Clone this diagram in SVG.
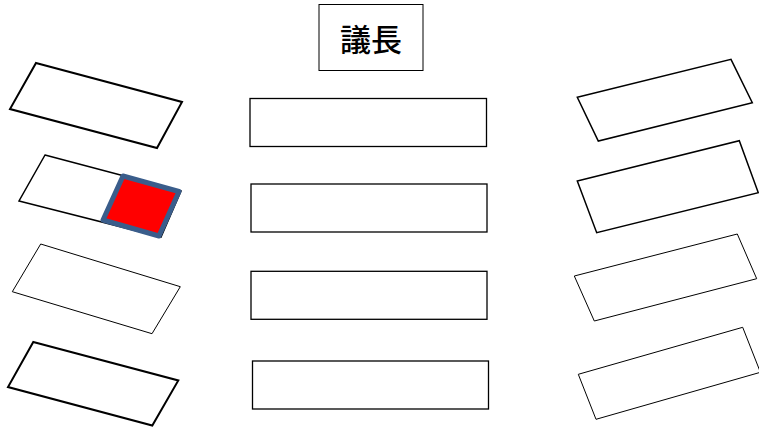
<svg xmlns="http://www.w3.org/2000/svg" width="759" height="427" viewBox="0 0 759 427">
<style>
.desk{fill:#fff;stroke:#000;stroke-width:1.5;stroke-linejoin:miter}
.thin{stroke-width:1}
.thick{stroke-width:2}
.seat{fill:#fff;stroke:#000;stroke-width:1.3}
.chair{fill:#fff;stroke:#000;stroke-width:1}
.red{fill:#ff0000;stroke:#3A5D8B;stroke-width:5;stroke-linejoin:round}
.label{font-family:"Noto Sans CJK JP","Noto Sans CJK SC",sans-serif;font-size:31px;font-weight:500;fill:#000}
</style>
<rect width="759" height="427" fill="#fff"/>
<g id="chair">
<rect class="chair" x="319" y="4.5" width="104" height="66"/>
<text class="label" x="371" y="51" text-anchor="middle">議長</text>
</g>
<g id="center1"><rect class="seat" x="250" y="98.5" width="236.5" height="48"/></g>
<g id="center2"><rect class="seat" x="251" y="184" width="236" height="48"/></g>
<g id="center3"><rect class="seat" x="251" y="271.3" width="236" height="48"/></g>
<g id="center4"><rect class="seat" x="252.5" y="361" width="236" height="48"/></g>
<g id="left1"><polygon class="desk thick" points="36,63 182,102 157,148 10,109"/></g>
<g id="left2">
<polygon class="desk" points="45,155 181,191 161,237 19,201"/>
<polygon class="red" points="123,176 179,191.5 159,236 103,220"/>
</g>
<g id="left3"><polygon class="desk thin" points="40.7,244 180.3,286.7 152,333.7 12.3,291.7"/></g>
<g id="left4"><polygon class="desk thick" points="33.3,342 178.3,380.5 152.3,425.5 8,387"/></g>
<g id="right1"><polygon class="desk" points="577.3,97.3 731,59.3 752.3,102.7 598.3,141"/></g>
<g id="right2"><polygon class="desk" points="577.3,181 739.3,140.7 758.3,192.7 596.7,232.7"/></g>
<g id="right3"><polygon class="desk thin" points="574.3,276 737.3,234 756.7,278.7 594.3,321"/></g>
<g id="right4"><polygon class="desk thin" points="578.3,374.3 742.7,327.3 760.4,372.3 596,419.3"/></g>
<g id="connectors"/>
</svg>
